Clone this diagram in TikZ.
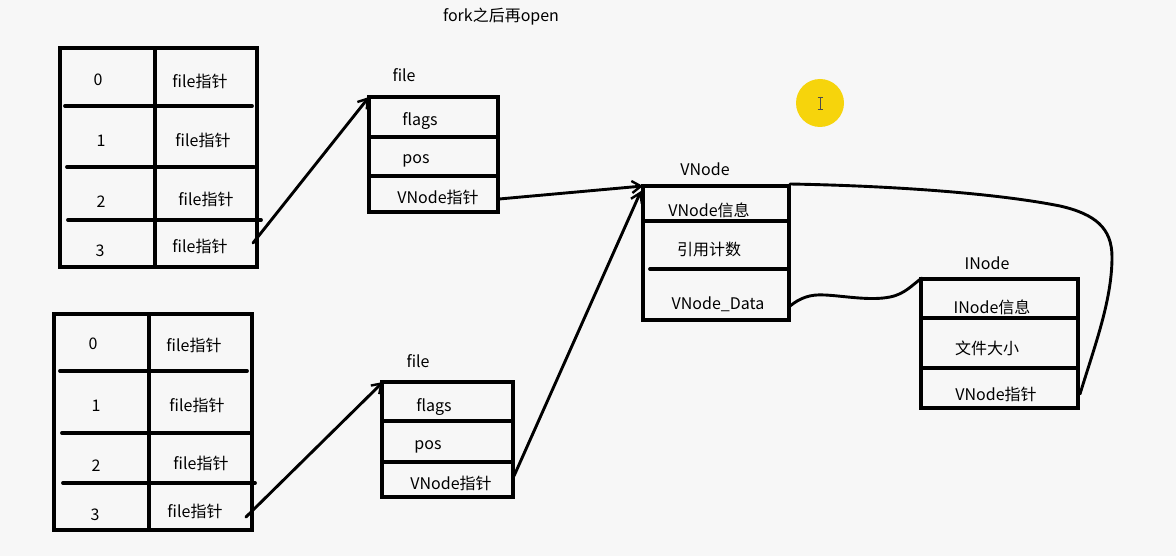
\documentclass[tikz,border=0pt]{standalone}
\usepackage{fontspec}
\setmainfont{Noto Sans CJK SC}
\usetikzlibrary{arrows.meta}
\definecolor{bg}{HTML}{F7F7F7}
\definecolor{dot}{HTML}{F6D40C}
\tikzset{
  boxline/.style={line width=3.8pt,line cap=round},
  wire/.style={line width=2.9pt,line cap=round},
  arr/.style={wire,-{Straight Barb[length=9pt,width=12pt,line width=2.4pt]}},
  lbl/.style={font=\fontsize{16}{19}\selectfont,inner sep=0pt,text=black},
}
\begin{document}
\begin{tikzpicture}[x=1pt,y=-1pt]
\useasboundingbox (0,0) rectangle (1176,556);
\fill[bg] (0,0) rectangle (1176,556);

% title
\node[lbl] (title) at (501,17) {fork之后再open};

% highlight dot
\fill[dot] (820,103) circle (24);
\draw[line width=0.9pt,black!70] (820,97)--(820,109) (817.5,97)--(822.5,97) (817.5,109)--(822.5,109);

% ---------- top table ----------
\draw[boxline] (60,48) rectangle (257,267);
\draw[boxline] (155,48) -- (155,267);
\draw[boxline] (65,106) -- (252,106);
\draw[boxline] (67,167) -- (254,167);
\draw[boxline] (68,220) -- (261,220);
\node[lbl] (a0) at (98,80) {0};
\node[lbl] (a0f) at (200,81) {file指针};
\node[lbl] (a1) at (101,141) {1};
\node[lbl] (a1f) at (203,140) {file指针};
\node[lbl] (a2) at (101,202) {2};
\node[lbl] (a2f) at (206,199) {file指针};
\node[lbl] (a3) at (100,251) {3};
\node[lbl] (a3f) at (200,246) {file指针};
\coordinate (a3out) at (253,243);

% ---------- bottom table ----------
\draw[boxline] (54,314) rectangle (252,530);
\draw[boxline] (149,314) -- (149,530);
\draw[boxline] (60,371) -- (247,371);
\draw[boxline] (62,433) -- (250,433);
\draw[boxline] (63,483) -- (255,483);
\node[lbl] (b0) at (93,344) {0};
\node[lbl] (b0f) at (194,345) {file指针};
\node[lbl] (b1) at (96,406) {1};
\node[lbl] (b1f) at (197,405) {file指针};
\node[lbl] (b2) at (96,466) {2};
\node[lbl] (b2f) at (201,463) {file指针};
\node[lbl] (b3) at (95,515) {3};
\node[lbl] (b3f) at (195,511) {file指针};
\coordinate (b3out) at (246,517);

% ---------- top file ----------
\node[lbl] (f1t) at (404,75) {file};
\draw[boxline] (369,97) rectangle (498,212);
\draw[boxline] (369,137) -- (498,137);
\draw[boxline] (369,176) -- (496,176);
\node[lbl] (f1a) at (420,121) {flags};
\node[lbl] (f1b) at (416,161) {pos};
\node[lbl] (f1c) at (438,197) {VNode指针};
\coordinate (f1in) at (369,97);
\coordinate (f1out) at (499,199);

% ---------- bottom file ----------
\node[lbl] (f2t) at (418,361) {file};
\draw[boxline] (382,382) rectangle (513,497);
\draw[boxline] (382,421) -- (513,421);
\draw[boxline] (382,462) -- (513,462);
\node[lbl] (f2a) at (434,407) {flags};
\node[lbl] (f2b) at (428,447) {pos};
\node[lbl] (f2c) at (451,483) {VNode指针};
\coordinate (f2in) at (383,382);
\coordinate (f2out) at (514,476);

% ---------- VNode ----------
\node[lbl] (vt) at (705,169) {VNode};
\draw[boxline] (643,186) rectangle (789,320);
\draw[boxline] (643,221) -- (787,221);
\draw[boxline] (650,269) -- (787,269);
\node[lbl] (va) at (709,210) {VNode信息};
\node[lbl] (vb) at (709,249) {引用计数};
\node[lbl] (vc) at (718,304) {VNode\_Data};
\coordinate (vin1) at (643,186);
\coordinate (vin2) at (641,191);
\coordinate (vdata) at (790,306);
\coordinate (vtr) at (790,184);

% ---------- INode ----------
\node[lbl] (it) at (987,263) {INode};
\draw[boxline] (921,279) rectangle (1078,408);
\draw[boxline] (921,318) -- (1078,318);
\draw[boxline] (921,368) -- (1078,368);
\node[lbl] (ia) at (992,307) {INode信息};
\node[lbl] (ib) at (987,348) {文件大小};
\node[lbl] (ic) at (996,394) {VNode指针};
\coordinate (iin) at (922,278);
\coordinate (iout) at (1080,394);

% ---------- connectors ----------
\draw[arr] (a3out) -- (f1in);
\draw[arr] (b3out) -- (f2in);
\draw[arr] (f1out) -- (vin1);
\draw[arr] (f2out) -- (vin2);
\draw[wire] (vdata) .. controls (800,298) and (810,294) .. (825,295)
  .. controls (845,296) and (870,301) .. (890,297)
  .. controls (905,294) and (912,285) .. (iin);
\draw[wire] (iout) .. controls (1095,345) and (1112,300) .. (1112,257)
  .. controls (1112,228) and (1095,214) .. (1060,206)
  .. controls (1000,194) and (900,186) .. (vtr);
\end{tikzpicture}
\end{document}
